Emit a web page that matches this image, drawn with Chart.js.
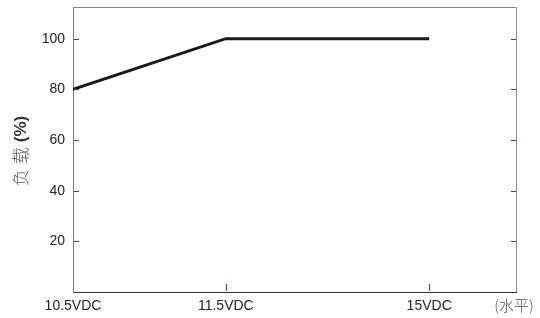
<!DOCTYPE html>
<html><head><meta charset="utf-8">
<script src="https://cdn.jsdelivr.net/npm/chart.js@4/dist/chart.umd.min.js"></script>
<style>html,body{margin:0;padding:0;background:#fff}#wrap{width:540px;height:318px}</style>
</head><body><div id="wrap"><canvas id="c" width="540" height="318"></canvas></div>
<script>
const categories = ['10.5VDC', '11.5VDC', '15VDC'];
const xValues = [0, 3.45, 8.04];
const loadValues = [80, 100, 100];
const yTicks = [20, 40, 60, 80, 100];
const yTitleChars = ['负', '载'];
const yTitleUnit = '(%)';
const xTitle = '(水平)';

const FONT = '"Liberation Sans", Arial, sans-serif';
const CJK = '"Noto Sans CJK SC", sans-serif';
const TICKBLUE = '#3c3ca8';

const framePlugin = {
  id: 'frame',
  afterDraw(chart) {
    const ctx = chart.ctx, a = chart.chartArea;
    const xs = chart.scales.x, ys = chart.scales.y;
    ctx.save();
    ctx.strokeStyle = '#888';
    ctx.lineWidth = 1;
    ctx.beginPath();
    ctx.moveTo(a.left, a.top + 0.5); ctx.lineTo(a.right + 0.5, a.top + 0.5);
    ctx.lineTo(a.right + 0.5, a.bottom);
    ctx.stroke();
    ctx.strokeStyle = TICKBLUE;
    yTicks.forEach(v => {
      const y = Math.round(ys.getPixelForValue(v)) + 0.5;
      ctx.beginPath(); ctx.moveTo(a.left + 1, y); ctx.lineTo(a.left + 6, y); ctx.stroke();
      ctx.beginPath(); ctx.moveTo(a.right - 5, y); ctx.lineTo(a.right, y); ctx.stroke();
    });
    xValues.slice(1).forEach(v => {
      const x = Math.round(xs.getPixelForValue(v)) + 0.5;
      ctx.beginPath(); ctx.moveTo(x, a.bottom - 1); ctx.lineTo(x, a.bottom - 8); ctx.stroke();
    });
    ctx.fillStyle = '#555';
    ctx.translate(21, 151);
    ctx.rotate(-Math.PI / 2);
    ctx.textBaseline = 'middle';
    ctx.textAlign = 'left';
    ctx.font = '300 17px ' + CJK;
    const cw = ctx.measureText(yTitleChars[0]).width;
    ctx.font = 'bold 17px ' + FONT;
    const uw = ctx.measureText(yTitleUnit).width;
    const gap = 5;
    const total = cw * yTitleChars.length + gap * yTitleChars.length + uw;
    let pos = -total / 2;
    ctx.font = '300 17px ' + CJK;
    yTitleChars.forEach(ch => { ctx.fillText(ch, pos, 0); pos += cw + gap; });
    ctx.fillStyle = '#333';
    ctx.font = 'bold 17px ' + FONT;
    ctx.fillText(yTitleUnit, pos, 0);
    ctx.restore();
    ctx.save();
    ctx.fillStyle = '#555';
    ctx.font = '300 15px ' + CJK;
    ctx.textAlign = 'center';
    ctx.textBaseline = 'middle';
    ctx.fillText(xTitle, 514, 305);
    ctx.restore();
  }
};

new Chart(document.getElementById('c'), {
  type: 'line',
  data: {
    datasets: [{
      data: xValues.map((x, i) => ({ x: x, y: loadValues[i] })),
      borderColor: '#1a1a1a',
      borderWidth: 3,
      pointRadius: 0,
      tension: 0,
      fill: false
    }]
  },
  options: {
    responsive: false,
    animation: false,
    layout: { padding: { top: 7, right: 24, left: 0, bottom: 0 } },
    plugins: { legend: { display: false }, tooltip: { enabled: false } },
    scales: {
      x: {
        type: 'linear',
        min: 0, max: 10,
        afterBuildTicks(s) { s.ticks = xValues.map(v => ({ value: v })); },
        afterFit(s) { s.height = 26; s.paddingLeft = 0; s.paddingRight = 0; },
        grid: { display: false, drawTicks: false },
        border: { display: true, color: '#333', width: 1 },
        ticks: {
          autoSkip: false, maxRotation: 0, padding: 6,
          color: '#222',
          font: { family: FONT, size: 14 },
          callback(v) { const i = xValues.indexOf(v); return i >= 0 ? categories[i] : ''; }
        }
      },
      y: {
        min: 0, max: 112.5,
        afterBuildTicks(s) { s.ticks = yTicks.map(v => ({ value: v })); },
        afterFit(s) { s.width = 73; s.paddingTop = 0; s.paddingBottom = 0; },
        grid: { display: false, drawTicks: false },
        border: { display: true, color: '#777', width: 1 },
        ticks: {
          padding: 8,
          color: '#222',
          font: { family: FONT, size: 14 }
        }
      }
    }
  },
  plugins: [framePlugin]
});
</script>
</body></html>
